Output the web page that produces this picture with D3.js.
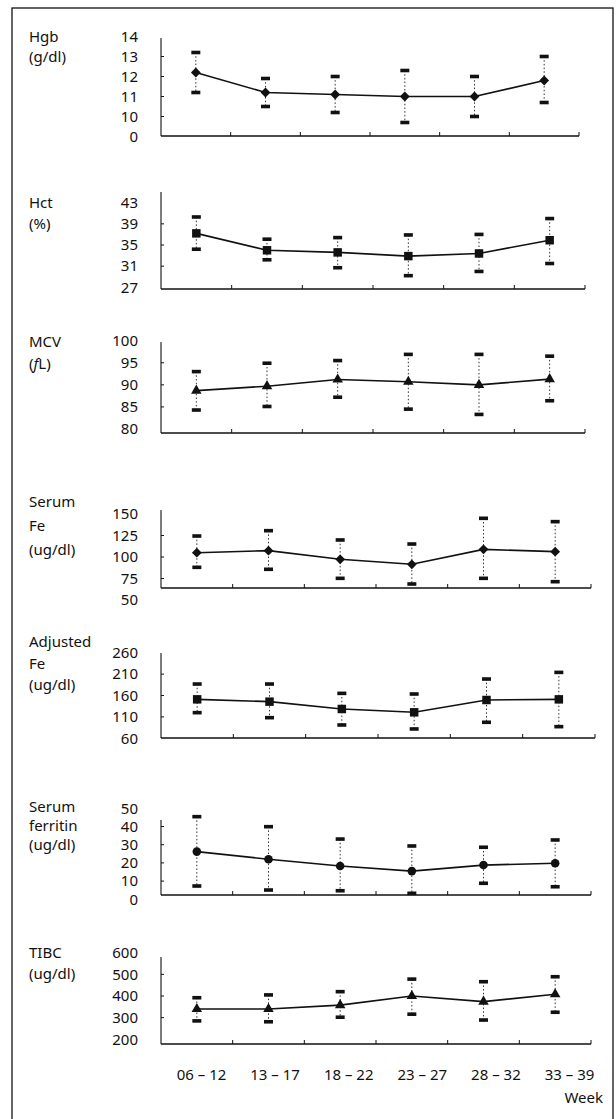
<!DOCTYPE html>
<html>
<head>
<meta charset="utf-8">
<script src="https://cdn.jsdelivr.net/npm/d3@7"></script>
<style>
  body { margin: 0; background: #fff; }
  svg text { font-family: "Noto Sans", sans-serif; font-size: 15px; fill: #111; }
</style>
</head>
<body>
<svg id="chart" width="616" height="1119"></svg>
<script>
// gestational week groups
const weeks = ["06 – 12", "13 – 17", "18 – 22", "23 – 27", "28 – 32", "33 – 39"];

// Hgb (g/dl) - the bottom tick is printed as "0"
const hgbMean  = [12.2, 11.2, 11.1, 11.0, 11.0, 11.8];
const hgbUpper = [13.2, 11.9, 12.0, 12.3, 12.0, 13.0];
const hgbLower = [11.2, 10.5, 10.2, 9.7, 10.0, 10.7];
const hgbTicks = [9, 10, 11, 12, 13, 14];
const hgbTickText = ["0", "10", "11", "12", "13", "14"];

// Hct (%)
const hctMean  = [37.2, 34.0, 33.6, 32.9, 33.4, 35.9];
const hctUpper = [40.3, 36.1, 36.4, 36.9, 37.0, 40.0];
const hctLower = [34.2, 32.2, 30.7, 29.2, 30.0, 31.5];
const hctTicks = [27, 31, 35, 39, 43];

// MCV (fL)
const mcvMean  = [88.7, 89.7, 91.2, 90.7, 90.0, 91.3];
const mcvUpper = [93.0, 94.9, 95.5, 96.9, 96.9, 96.5];
const mcvLower = [84.3, 85.1, 87.2, 84.5, 83.3, 86.4];
const mcvTicks = [80, 85, 90, 95, 100];

// Serum Fe (ug/dl)
const feMean  = [105, 107.4, 97.3, 91.5, 108.9, 106.2];
const feUpper = [124.4, 130.6, 119.8, 115.1, 145, 141.1];
const feLower = [88, 85.7, 75.2, 68.6, 75.2, 71.3];
const feTicks = [50, 75, 100, 125, 150];

// Adjusted Fe (ug/dl)
const adjMean  = [151, 145.6, 128.5, 120.7, 149.5, 151];
const adjUpper = [186.8, 186.8, 165, 163.5, 198.5, 214];
const adjLower = [119.9, 108.2, 91.1, 81.8, 97.4, 87.2];
const adjTicks = [60, 110, 160, 210, 260];

// Serum ferritin (ug/dl)
const ferMean  = [26.2, 22.0, 18.3, 15.5, 18.8, 19.8];
const ferUpper = [45.4, 39.9, 33.1, 29.3, 28.6, 32.6];
const ferLower = [7.3, 5.1, 4.7, 3.3, 8.8, 6.9];
const ferTicks = [0, 10, 20, 30, 40, 50];

// TIBC (ug/dl)
const tibcMean  = [340, 340, 358, 400, 374, 408];
const tibcUpper = [392, 405, 420, 478, 466, 489];
const tibcLower = [285, 281, 302, 316, 289, 325];
const tibcTicks = [200, 300, 400, 500, 600];

const panels = [
  { title: ["Hgb", "(g/dl)"], mean: hgbMean, upper: hgbUpper, lower: hgbLower, ticks: hgbTicks, tickText: hgbTickText, mark: "diamond" },
  { title: ["Hct", "(%)"], mean: hctMean, upper: hctUpper, lower: hctLower, ticks: hctTicks, mark: "square" },
  { title: ["MCV", "(fL)"], mean: mcvMean, upper: mcvUpper, lower: mcvLower, ticks: mcvTicks, mark: "triangle" },
  { title: ["Serum", "Fe", "(ug/dl)"], mean: feMean, upper: feUpper, lower: feLower, ticks: feTicks, mark: "diamond" },
  { title: ["Adjusted", "Fe", "(ug/dl)"], mean: adjMean, upper: adjUpper, lower: adjLower, ticks: adjTicks, mark: "square" },
  { title: ["Serum", "ferritin", "(ug/dl)"], mean: ferMean, upper: ferUpper, lower: ferLower, ticks: ferTicks, mark: "circle" },
  { title: ["TIBC", "(ug/dl)"], mean: tibcMean, upper: tibcUpper, lower: tibcLower, ticks: tibcTicks, mark: "triangle" }
];

// page layout of each panel: pixel of lowest / highest tick, axis frame, title lines
const layout = [
  { yMin: 136.5, yMax: 36.5, top: 38, bottom: 136, right: 579, titleY: 36.5, titleGap: 20.5 },
  { yMin: 287.3, yMax: 202.7, top: 192, bottom: 289, right: 585, titleY: 203, titleGap: 20.5 },
  { yMin: 429, yMax: 340.7, top: 342, bottom: 433, right: 585, titleY: 341.7, titleGap: 21.6 },
  { yMin: 600, yMax: 514, top: 510, bottom: 588, right: 591, titleY: 501.7, titleGap: 24 },
  { yMin: 738.3, yMax: 652.7, top: 653, bottom: 738, right: 595, titleY: 641.7, titleGap: 21.7 },
  { yMin: 899.3, yMax: 808.3, top: 820, bottom: 895, right: 591, titleY: 807, titleGap: 19 },
  { yMin: 1039.3, yMax: 952.7, top: 957, bottom: 1044, right: 591, titleY: 952.7, titleGap: 20.6 }
];

const svg = d3.select('#chart');
const axisLeftX = 161;

// outer frame of the figure
svg.append('rect')
  .attr('x', 12).attr('y', 8).attr('width', 601).attr('height', 1130)
  .attr('fill', 'none').attr('stroke', '#111').attr('stroke-width', 1.3);

const symbols = {
  diamond: d3.symbol().type(d3.symbolSquare).size(48),
  square: d3.symbol().type(d3.symbolSquare).size(72),
  triangle: d3.symbol().type(d3.symbolTriangle).size(48),
  circle: d3.symbol().type(d3.symbolCircle).size(58)
};

panels.forEach((p, i) => {
  const L = layout[i];
  const g = svg.append('g');

  const x = d3.scalePoint().domain(weeks).range([axisLeftX, L.right]).padding(0.5);
  const y = d3.scaleLinear()
    .domain([p.ticks[0], p.ticks[p.ticks.length - 1]])
    .range([L.yMin, L.yMax]);

  // title lines on the left (the "f" of fL is italic)
  p.title.forEach((t, k) => {
    const tx = g.append('text')
      .attr('x', 29).attr('y', L.titleY + k * L.titleGap)
      .attr('dy', '0.35em');
    if (t === '(fL)') {
      tx.append('tspan').text('(');
      tx.append('tspan').attr('font-style', 'italic').text('f');
      tx.append('tspan').text('L)');
    } else {
      tx.text(t);
    }
  });

  // y axis labels
  const yAxis = d3.axisLeft(y)
    .tickValues(p.ticks)
    .tickSize(0)
    .tickPadding(23)
    .tickFormat((d, k) => p.tickText ? p.tickText[k] : d);
  const ya = g.append('g').attr('transform', `translate(${axisLeftX},0)`).call(yAxis);
  ya.select('.domain').remove();
  ya.selectAll('text').style('font-size', '15px').style('font-family', '"Noto Sans", sans-serif').attr('fill', '#111');

  // axis frame lines
  g.append('line')
    .attr('x1', axisLeftX).attr('x2', axisLeftX).attr('y1', L.top).attr('y2', L.bottom)
    .attr('stroke', '#111').attr('stroke-width', 1.1);
  g.append('line')
    .attr('x1', axisLeftX).attr('x2', L.right).attr('y1', L.bottom).attr('y2', L.bottom)
    .attr('stroke', '#111').attr('stroke-width', 1.3);

  // small inward ticks on the y axis
  p.ticks.slice(1, -1).forEach(v => {
    g.append('line')
      .attr('x1', axisLeftX).attr('x2', axisLeftX + 3).attr('y1', y(v)).attr('y2', y(v))
      .attr('stroke', '#111').attr('stroke-width', 1);
  });

  // x ticks between the groups, and at the right end
  const step = x.step();
  const bounds = d3.range(1, weeks.length + 1).map(k => axisLeftX + k * step);
  g.selectAll('.xt').data(bounds).join('line')
    .attr('x1', d => d).attr('x2', d => d)
    .attr('y1', L.bottom).attr('y2', L.bottom - 4)
    .attr('stroke', '#111').attr('stroke-width', 1);

  // error bars (dotted) with caps
  weeks.forEach((w, k) => {
    g.append('line')
      .attr('x1', x(w)).attr('x2', x(w))
      .attr('y1', y(p.upper[k])).attr('y2', y(p.lower[k]))
      .attr('stroke', '#333').attr('stroke-width', 1)
      .attr('stroke-dasharray', '1.5,2.2');
    [p.upper[k], p.lower[k]].forEach(v => {
      g.append('rect')
        .attr('x', x(w) - 4.5).attr('y', y(v) - 1.8)
        .attr('width', 9).attr('height', 3.6)
        .attr('fill', '#111');
    });
  });

  // mean line
  g.append('path')
    .datum(p.mean)
    .attr('fill', 'none').attr('stroke', '#111').attr('stroke-width', 1.6)
    .attr('d', d3.line().x((d, k) => x(weeks[k])).y(d => y(d)));

  // markers
  g.selectAll('.mk').data(p.mean).join('path')
    .attr('transform', (d, k) => `translate(${x(weeks[k])},${y(d)})` + (p.mark === 'diamond' ? ' rotate(45)' : ''))
    .attr('d', symbols[p.mark]())
    .attr('fill', '#111');
});

// week labels under the last panel
const xLab = d3.scalePoint().domain(weeks).range([201, 569]);
const xa = svg.append('g').attr('transform', 'translate(0,1075)')
  .call(d3.axisBottom(xLab).tickSize(0).tickPadding(0));
xa.select('.domain').remove();
xa.selectAll('text').attr('dy', '0.35em').attr('y', 0)
  .style('font-size', '15px').style('font-family', '"Noto Sans", sans-serif').attr('fill', '#111');

svg.append('text')
  .attr('x', 603).attr('y', 1098).attr('dy', '0.35em')
  .attr('text-anchor', 'end')
  .text('Week');
</script>
</body>
</html>
